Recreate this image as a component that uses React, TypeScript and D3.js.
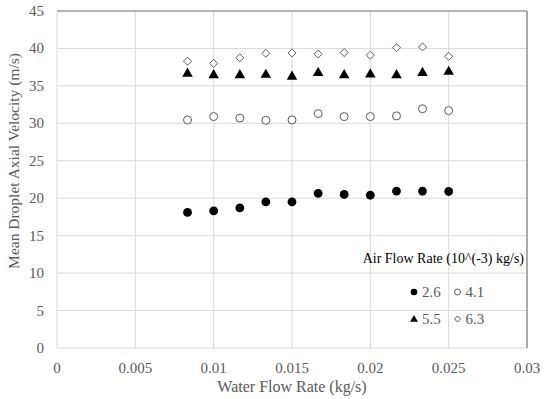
import React, { useEffect, useRef } from "react";
import * as d3 from "d3";

const waterFlow = [0.00833, 0.01, 0.01167, 0.01333, 0.015, 0.01667, 0.01833, 0.02, 0.02167, 0.02333, 0.025];
const air26 = [18.1, 18.3, 18.7, 19.5, 19.5, 20.65, 20.5, 20.4, 20.95, 20.95, 20.9];
const air41 = [30.45, 30.9, 30.7, 30.4, 30.45, 31.3, 30.9, 30.9, 31.0, 31.95, 31.7];
const air55 = [36.7, 36.5, 36.5, 36.55, 36.3, 36.8, 36.5, 36.6, 36.5, 36.8, 36.95];
const air63 = [38.3, 38.0, 38.75, 39.35, 39.4, 39.25, 39.45, 39.1, 40.1, 40.2, 38.95];

const xTicks = [0, 0.005, 0.01, 0.015, 0.02, 0.025, 0.03];
const yTicks = [0, 5, 10, 15, 20, 25, 30, 35, 40, 45];

type Series = { label: string; values: number[]; marker: "dot" | "circle" | "triangle" | "diamond" };
const series: Series[] = [
  { label: "2.6", values: air26, marker: "dot" },
  { label: "4.1", values: air41, marker: "circle" },
  { label: "5.5", values: air55, marker: "triangle" },
  { label: "6.3", values: air63, marker: "diamond" },
];

const FONT = "Liberation Serif, DejaVu Serif, serif";
const TEXT = "#595959";

const drawMarker = (
  sel: d3.Selection<SVGGElement, unknown, null, undefined>,
  kind: Series["marker"],
  x: number,
  y: number,
  s: number
) => {
  if (kind === "dot") {
    sel.append("circle").attr("cx", x).attr("cy", y).attr("r", s * 0.55).attr("fill", "#000");
  } else if (kind === "circle") {
    sel.append("circle").attr("cx", x).attr("cy", y).attr("r", s * 0.5).attr("fill", "#fff")
      .attr("stroke", "#595959").attr("stroke-width", 1);
  } else if (kind === "triangle") {
    sel.append("path")
      .attr("d", d3.symbol().type(d3.symbolTriangle).size(s * s * 0.75)())
      .attr("transform", `translate(${x},${y + 0.5})`)
      .attr("fill", "#000");
  } else {
    const r = s * 0.5;
    sel.append("path")
      .attr("d", `M${x},${y - r}L${x + r},${y}L${x},${y + r}L${x - r},${y}Z`)
      .attr("fill", "#fff").attr("stroke", "#595959").attr("stroke-width", 1);
  }
};

const App: React.FC = () => {
  const ref = useRef<SVGSVGElement>(null);

  useEffect(() => {
    if (!ref.current) return;
    const svg = d3.select(ref.current);
    svg.selectAll("*").remove();

    const left = 57, right = 527, top = 11, bottom = 348;
    const x = d3.scaleLinear().domain([0, 0.03]).range([left, right]);
    const y = d3.scaleLinear().domain([0, 45]).range([bottom, top]);

    const g = svg.append("g").attr("font-family", FONT);

    // gridlines
    g.selectAll("line.hgrid").data(yTicks).enter().append("line")
      .attr("x1", left).attr("x2", right)
      .attr("y1", (d) => y(d)).attr("y2", (d) => y(d))
      .attr("stroke", "#d9d9d9").attr("stroke-width", 1);
    g.selectAll("line.vgrid").data(xTicks).enter().append("line")
      .attr("y1", top).attr("y2", bottom)
      .attr("x1", (d) => x(d)).attr("x2", (d) => x(d))
      .attr("stroke", "#d9d9d9").attr("stroke-width", 1);

    // plot border top / right
    g.append("line").attr("x1", left).attr("x2", right).attr("y1", top).attr("y2", top)
      .attr("stroke", "#7f7f7f").attr("stroke-width", 1.2);
    g.append("line").attr("x1", right).attr("x2", right).attr("y1", top).attr("y2", bottom)
      .attr("stroke", "#7f7f7f").attr("stroke-width", 1.2);

    // tick labels
    g.selectAll("text.ytick").data(yTicks).enter().append("text")
      .attr("x", 44).attr("y", (d) => y(d) + 5)
      .attr("text-anchor", "end")
      .attr("font-size", 15).attr("fill", TEXT)
      .text((d) => d3.format("")(d));
    g.selectAll("text.xtick").data(xTicks).enter().append("text")
      .attr("x", (d) => x(d)).attr("y", 373)
      .attr("text-anchor", "middle")
      .attr("font-size", 15).attr("fill", TEXT)
      .text((d) => String(d));

    // axis titles
    g.append("text")
      .attr("x", (left + right) / 2).attr("y", 392)
      .attr("text-anchor", "middle")
      .attr("font-size", 16).attr("fill", TEXT)
      .text("Water Flow Rate (kg/s)");
    g.append("text")
      .attr("transform", `translate(19,161) rotate(-90)`)
      .attr("text-anchor", "middle")
      .attr("font-size", 15.5).attr("fill", TEXT)
      .text("Mean Droplet Axial Velocity (m/s)");

    // points
    series.forEach((s) => {
      s.values.forEach((v, i) => {
        drawMarker(g, s.marker, x(waterFlow[i]), y(v), 8);
      });
    });

    // legend
    g.append("text")
      .attr("x", 524).attr("y", 263)
      .attr("text-anchor", "end")
      .attr("font-size", 14).attr("fill", "#000")
      .text("Air Flow Rate (10^(-3) kg/s)");
    const legendPos = [
      [414, 292], [457.5, 292], [414, 319], [457.5, 319],
    ];
    series.forEach((s, i) => {
      const [lx, ly] = legendPos[i];
      drawMarker(g, s.marker, lx, ly, 6);
      g.append("text")
        .attr("x", lx + 8).attr("y", ly + 5)
        .attr("font-size", 15).attr("fill", TEXT)
        .text(s.label);
    });
  }, []);

  return (
    <svg
      ref={ref}
      width={548}
      height={399}
      style={{ position: "absolute", left: 0, top: 0, background: "#fff" }}
    />
  );
};

export default App;
